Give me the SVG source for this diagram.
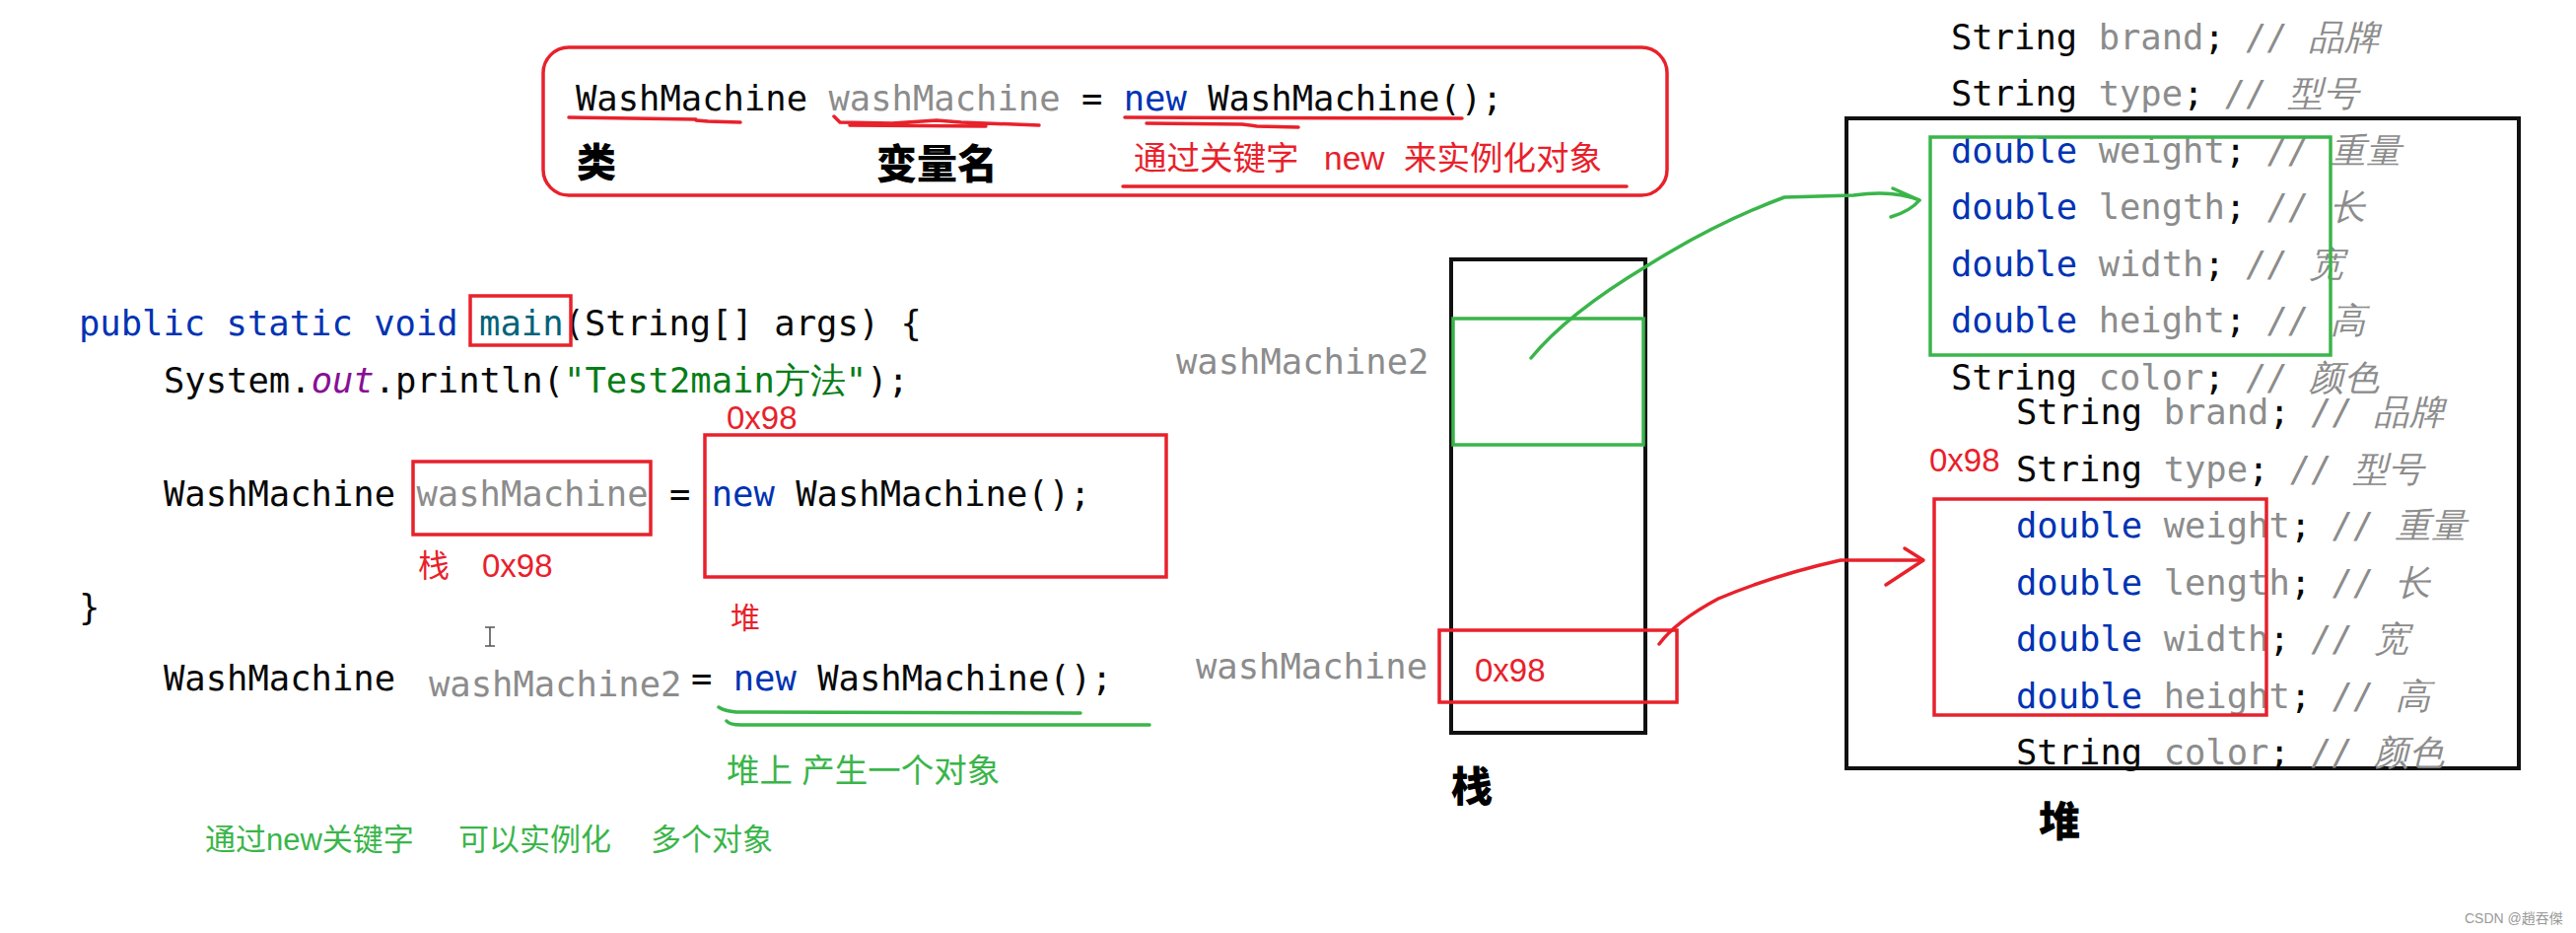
<svg xmlns="http://www.w3.org/2000/svg" width="2613" height="946" viewBox="0 0 2613 946">
<style>
.code{font-family:"DejaVu Sans Mono","Liberation Mono",monospace;font-size:35.5px;fill:#080808;white-space:pre}
.kw{fill:#0033b3}
.fn{fill:#00627a}
.var{fill:#8c8c8c}
.str{fill:#067d17}
.st{fill:#871094;font-style:italic}
.cm{fill:#8c8c8c;font-style:italic}
.red{fill:#e8212b;font-family:"Liberation Sans","Noto Sans CJK SC",sans-serif;white-space:pre}
.grn{fill:#3ab54a;font-family:"Liberation Sans","Noto Sans CJK SC",sans-serif;white-space:pre}
.bold{font-family:"Noto Sans CJK SC",sans-serif;font-weight:900;fill:#000}
.rbox{fill:none;stroke:#e8212b;stroke-width:3.5}
.gbox{fill:none;stroke:#3ab54a;stroke-width:3.5}
.kbox{fill:none;stroke:#111;stroke-width:4}
.rpen{fill:none;stroke:#e8212b;stroke-width:3.5;stroke-linecap:round;stroke-linejoin:round}
.gpen{fill:none;stroke:#3ab54a;stroke-width:3.5;stroke-linecap:round;stroke-linejoin:round}
</style>
<rect x="0" y="0" width="2613" height="946" fill="#ffffff"/>

<g id="declaration-box">
<rect x="551" y="48" width="1140" height="150" rx="26" class="rbox"/>
<text class="code" x="584" y="112">WashMachine <tspan class="var">washMachine</tspan> = <tspan class="kw">new</tspan> WashMachine();</text>
<path class="rpen" d="M577,119 L706,121 M706,122 L718,123 L751,124"/>
<path class="rpen" d="M846,118 L852,124 L905,125 L950,122 L975,124 L1054,127 M862,127 L1000,128"/>
<path class="rpen" d="M1141,119 L1483,120 M1163,125 L1260,126 L1275,128 L1317,129"/>
<text class="bold" x="585" y="179" font-size="40">类</text>
<text class="bold" x="889" y="181" font-size="41">变量名</text>
<text class="red" x="1150" y="172" font-size="33.5">通过关键字</text>
<text class="red" x="1343" y="172" font-size="33.5">new</text>
<text class="red" x="1424" y="172" font-size="33.5">来实例化对象</text>
<path class="rpen" d="M1139,189 L1650,189"/>
</g>

<g id="main-code">
<text class="code" x="80" y="340"><tspan class="kw">public static void </tspan><tspan class="fn">main</tspan>(String[] args) {</text>
<rect x="477" y="300" width="102" height="50" class="rbox"/>
<text class="code" x="166" y="398">System.<tspan class="st">out</tspan>.println(<tspan class="str">"Test2main方法"</tspan>);</text>
<text class="red" x="737" y="435" font-size="33">0x98</text>
<rect x="715" y="441" width="468" height="144" class="rbox"/>
<text class="code" x="166" y="513">WashMachine <tspan class="var">washMachine</tspan> = <tspan class="kw">new</tspan> WashMachine();</text>
<rect x="419" y="468" width="241" height="74" class="rbox"/>
<text class="red" x="424" y="585" font-size="32">栈</text>
<text class="red" x="489" y="585" font-size="33">0x98</text>
<text class="code" x="80" y="628">}</text>
<path d="M492,636 h10 M497,636 v19 M492,655 h10" fill="none" stroke="#555" stroke-width="1.6"/>
<text class="red" x="741" y="637" font-size="30">堆</text>
<text class="code" x="166" y="700">WashMachine</text>
<text class="code var" x="435" y="706">washMachine2</text>
<text class="code" x="701" y="700">= <tspan class="kw">new</tspan> WashMachine();</text>
<path class="gpen" d="M729,717 Q735,721 747,722 L1096,723 M737,731 Q740,735 752,735 L1166,735"/>
<text class="grn" x="737" y="793" font-size="33.5">堆上 产生一个对象</text>
<text class="grn" x="208" y="862" font-size="31">通过new关键字</text>
<text class="grn" x="465" y="862" font-size="31">可以实例化</text>
<text class="grn" x="660" y="862" font-size="31">多个对象</text>
</g>

<g id="stack">
<rect x="1472" y="263" width="197" height="480" class="kbox"/>
<rect x="1474" y="323" width="193" height="128" class="gbox"/>
<text class="code var" x="1193" y="379">washMachine2</text>
<rect x="1460" y="639" width="241" height="73" class="rbox"/>
<text class="code var" x="1213" y="688">washMachine</text>
<text class="red" x="1496" y="691" font-size="33">0x98</text>
<text class="bold" x="1472" y="813" font-size="42">栈</text>
</g>

<g id="heap">
<rect x="1873" y="120" width="682" height="659" class="kbox"/>
<g id="heap-object-1">
<text class="code" x="1979" y="49.5">String <tspan class="var">brand</tspan>; <tspan class="cm">// 品牌</tspan></text>
<text class="code" x="1979" y="107">String <tspan class="var">type</tspan>; <tspan class="cm">// 型号</tspan></text>
<text class="code" x="1979" y="164.5"><tspan class="kw">double</tspan> <tspan class="var">weight</tspan>; <tspan class="cm">// 重量</tspan></text>
<text class="code" x="1979" y="222"><tspan class="kw">double</tspan> <tspan class="var">length</tspan>; <tspan class="cm">// 长</tspan></text>
<text class="code" x="1979" y="279.5"><tspan class="kw">double</tspan> <tspan class="var">width</tspan>; <tspan class="cm">// 宽</tspan></text>
<text class="code" x="1979" y="337"><tspan class="kw">double</tspan> <tspan class="var">height</tspan>; <tspan class="cm">// 高</tspan></text>
<text class="code" x="1979" y="394.5">String <tspan class="var">color</tspan>; <tspan class="cm">// 颜色</tspan></text>
<rect x="1958" y="139" width="406" height="221" class="gbox"/>
</g>
<g id="heap-object-2">
<text class="code" x="2045" y="430">String <tspan class="var">brand</tspan>; <tspan class="cm">// 品牌</tspan></text>
<text class="red" x="1957" y="478" font-size="33">0x98</text>
<text class="code" x="2045" y="487.5">String <tspan class="var">type</tspan>; <tspan class="cm">// 型号</tspan></text>
<text class="code" x="2045" y="545"><tspan class="kw">double</tspan> <tspan class="var">weight</tspan>; <tspan class="cm">// 重量</tspan></text>
<text class="code" x="2045" y="602.5"><tspan class="kw">double</tspan> <tspan class="var">length</tspan>; <tspan class="cm">// 长</tspan></text>
<text class="code" x="2045" y="660"><tspan class="kw">double</tspan> <tspan class="var">width</tspan>; <tspan class="cm">// 宽</tspan></text>
<text class="code" x="2045" y="717.5"><tspan class="kw">double</tspan> <tspan class="var">height</tspan>; <tspan class="cm">// 高</tspan></text>
<text class="code" x="2045" y="775">String <tspan class="var">color</tspan>; <tspan class="cm">// 颜色</tspan></text>
<rect x="1962" y="506" width="337" height="219" class="rbox"/>
</g>
<text class="bold" x="2068" y="848" font-size="42">堆</text>
</g>

<g id="connectors">
<path class="gpen" d="M1553,363 Q1590,318 1670,270 Q1740,226 1810,200 L1880,198 Q1920,192 1947,203"/>
<path class="gpen" d="M1920,191 L1947,203 Q1938,214 1918,220"/>
<path class="rpen" d="M1683,653 Q1700,630 1743,607 Q1800,583 1867,568 L1950,568"/>
<path class="rpen" d="M1932,556 L1951,568 L1913,593"/>
</g>

<text x="2500" y="936" font-family="Liberation Sans,Noto Sans CJK SC,sans-serif" font-size="14" fill="#999">CSDN @趙吞傑</text>
</svg>
